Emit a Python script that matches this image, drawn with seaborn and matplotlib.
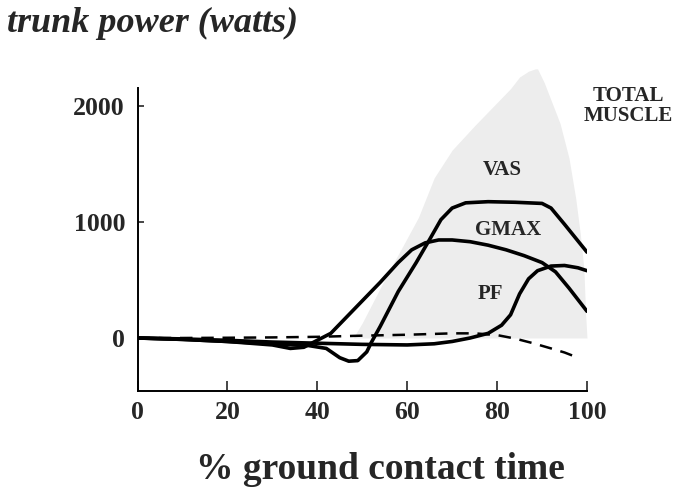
import numpy as np
import pandas as pd
import matplotlib
matplotlib.use("Agg")
import matplotlib.pyplot as plt
import seaborn as sns

# ---- data ----
gmax_x = [0, 10, 20, 30, 34, 37, 40, 43, 46, 50, 54, 58, 61, 64, 67, 70, 74, 78, 82, 86, 90, 93, 96, 100]
gmax_y = [0, -12, -30, -60, -90, -80, -20, 40, 160, 320, 480, 650, 760, 820, 845, 845, 830, 800, 760, 710, 650, 570, 430, 230]

vas_x = [0, 10, 20, 30, 38, 42, 45, 47, 49, 51, 52, 54, 58, 62, 65, 67.5, 70, 73, 78, 84, 90, 92, 95, 100]
vas_y = [0, -12, -30, -50, -65, -90, -170, -200, -195, -120, -40, 100, 400, 650, 850, 1020, 1120, 1165, 1175, 1170, 1160, 1120, 980, 740]

pf_x = [0, 10, 20, 30, 40, 50, 60, 66, 70, 74, 78, 81, 83, 85, 87, 89, 92, 95, 98, 100]
pf_y = [0, -8, -20, -35, -45, -55, -60, -50, -30, 0, 40, 110, 200, 380, 510, 580, 620, 625, 605, 580]

other_x = [0, 10, 20, 30, 40, 50, 60, 70, 75, 80, 84, 88, 92, 95, 98]
other_y = [0, 0, 2, 5, 10, 20, 28, 40, 40, 25, -5, -45, -90, -125, -170]

total_x = [48, 50, 52.8, 56, 59, 62.5, 66, 70, 75, 80, 83, 85, 87, 88.5, 89, 90.5, 92, 94, 96, 97.5, 98.5, 99.3, 99.7, 100]
total_y = [0, 130, 340, 580, 790, 1040, 1380, 1620, 1830, 2030, 2150, 2250, 2300, 2320, 2320, 2200, 2050, 1850, 1550, 1200, 900, 600, 200, 0]

x_ticks = [0, 20, 40, 60, 80, 100]
y_ticks = [0, 1000, 2000]
labels = {"VAS": (502, 1450), "GMAX": (508, 935), "PF": (490, 375)}

sns.set_style("ticks")
plt.rcParams["font.family"] = ["Liberation Serif", "DejaVu Serif"]

fig = plt.figure(figsize=(6.78, 4.93), dpi=100)
ax = fig.add_axes([137.5 / 678, 1 - 391 / 493, (587 - 137.5) / 678, (391 - 88) / 493])

ax.fill_between(total_x, 0, total_y, color="#ededed", linewidth=0, clip_on=False, zorder=0)

line_kw = dict(color="black", linewidth=2.6, sort=False, estimator=None, ax=ax)
sns.lineplot(x=gmax_x, y=gmax_y, **line_kw)
sns.lineplot(x=vas_x, y=vas_y, **line_kw)
sns.lineplot(x=pf_x, y=pf_y, **line_kw)
sns.lineplot(x=other_x, y=other_y, color="black", linewidth=1.8, sort=False, estimator=None,
             ax=ax, dashes=False)
ax.lines[-1].set_dashes([5, 3.5])

ax.set_xlim(0, 100)
ax.set_ylim(-457, 2155)
ax.set_xticks(x_ticks)
ax.set_yticks(y_ticks)
ax.set_xticklabels([str(v) for v in x_ticks])
ax.set_yticklabels([str(v) for v in y_ticks])
ax.tick_params(axis="x", direction="in", length=7, width=1.2, pad=7.5, labelsize=18.5)
ax.tick_params(axis="y", direction="in", length=4, width=1.2, pad=9, labelsize=18.5)
for lab in ax.get_xticklabels() + ax.get_yticklabels():
    lab.set_fontweight("bold")
sns.despine(ax=ax)
for s in ("left", "bottom"):
    ax.spines[s].set_linewidth(1.4)
    ax.spines[s].set_color("black")

ax.set_xlabel("% ground contact time", fontsize=27, fontweight="bold")
ax.xaxis.set_label_coords((380 - 137.5) / 449.5, -0.2)
ax.xaxis.label.set_verticalalignment("top")
ax.set_ylabel("")

for name, (px, yv) in labels.items():
    xv = (px - 137.5) / 4.495
    ax.text(xv, yv, name, fontsize=15, fontweight="bold", ha="center", va="center")
ax.text((628 - 137.5) / 4.495, 2000, "TOTAL\nMUSCLE", fontsize=15, fontweight="bold",
        ha="center", va="center", linespacing=0.95, clip_on=False)

fig.text(7 / 678, 1 - 7 / 493, "trunk power (watts)", fontsize=26, fontweight="bold",
         fontstyle="italic", ha="left", va="top")

fig.savefig("out.png", dpi=100)
